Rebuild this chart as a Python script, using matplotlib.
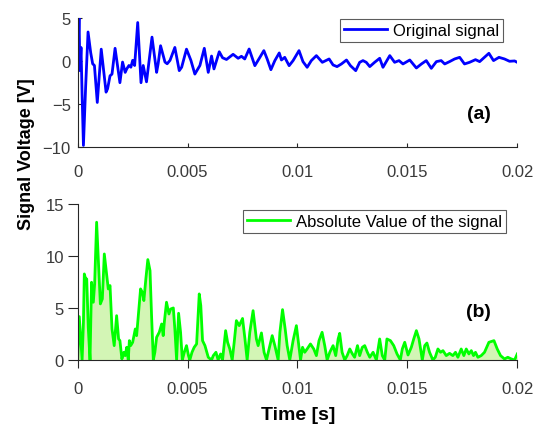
import numpy as np
import matplotlib
matplotlib.use("Agg")
from matplotlib import pyplot as plt

# time in ms, voltage in V
t_orig = [0.00, 0.06, 0.10, 0.15, 0.20, 0.26, 0.36, 0.47, 0.59, 0.68, 0.76, 0.89,
          1.07, 1.29, 1.36, 1.47, 1.56, 1.70, 1.92, 2.04, 2.16, 2.23, 2.33, 2.42,
          2.50, 2.59, 2.73, 2.88, 2.98, 3.13, 3.38, 3.59, 3.66, 3.77, 3.97, 4.07,
          4.20, 4.42, 4.62, 4.73, 4.95, 5.15, 5.33, 5.56, 5.76, 5.94, 6.09, 6.20,
          6.44, 6.59, 6.77, 7.07, 7.30, 7.45, 7.60, 7.80, 8.06, 8.29, 8.47, 8.62,
          8.79, 8.97, 9.17, 9.27, 9.42, 9.62, 9.80, 10.07, 10.25, 10.44, 10.63,
          10.86, 11.13, 11.44, 11.62, 11.80, 12.00, 12.23, 12.41, 12.65, 12.83,
          12.98, 13.13, 13.29, 13.51, 13.74, 13.89, 14.20, 14.42, 14.62, 14.80,
          15.11, 15.41, 15.64, 15.86, 16.09, 16.32, 16.54, 16.70, 16.92, 17.15,
          17.38, 17.60, 17.83, 18.10, 18.29, 18.71, 18.92, 19.17, 19.42, 19.65,
          19.88, 20.00]
v_orig = [-0.9, 5.3, -1.1, 1.6, -4.0, -9.8, -3.0, 3.4, 1.0, -0.3, -0.5, -4.8,
          1.4, -3.6, -3.2, -1.7, -1.5, 1.5, -2.5, -0.1, -1.3, -0.9, -0.5, -0.7,
          0.1, -0.5, 4.5, -2.5, -0.5, -2.4, 2.8, -1.3, -0.3, 1.8, -0.1, -0.3,
          0.1, 1.6, -1.1, -0.7, 1.4, 0.1, -1.5, -0.5, 1.5, -1.3, 0.6, -0.9,
          1.1, 0.4, 0.2, 0.8, 0.34, 0.57, 0.26, 1.42, -0.52, 0.45, 1.23, 0.26,
          -0.99, 0.07, 0.96, 0.14, 0.45, -0.52, 0.07, 1.23, -0.05, -0.71, 0.07,
          0.65, -0.13, 0.26, -0.44, -0.63, -0.32, 0.14, -0.52, -1.1, -0.13,
          0.07, -0.13, -0.63, -0.13, 0.34, -0.71, 0.65, -0.13, 0.07, -0.32,
          0.14, -0.79, -0.32, 0.07, -0.83, -0.05, 0.07, -0.32, -0.05, 0.26,
          0.45, -0.32, -0.13, 0.18, -0.05, 0.92, 0.07, 0.45, 0.26, -0.01,
          0.03, -0.13]

t_abs = [0.00, 0.03, 0.07, 0.15, 0.20, 0.26, 0.30, 0.38, 0.41, 0.48, 0.56, 0.63,
         0.71, 0.77, 0.86, 0.94, 1.03, 1.12, 1.21, 1.32, 1.39, 1.47, 1.56, 1.66,
         1.77, 1.86, 1.92, 2.01, 2.10, 2.16, 2.23, 2.30, 2.35, 2.41, 2.50, 2.56,
         2.62, 2.68, 2.77, 2.86, 2.94, 3.01, 3.10, 3.19, 3.29, 3.36, 3.44, 3.51,
         3.59, 3.71, 3.82, 3.89, 3.94, 4.04, 4.15, 4.23, 4.35, 4.42, 4.50, 4.59,
         4.68, 4.76, 4.85, 4.95, 5.04, 5.10, 5.20, 5.30, 5.41, 5.53, 5.60, 5.68,
         5.79, 5.94, 6.09, 6.17, 6.29, 6.39, 6.50, 6.59, 6.73, 6.82, 6.92, 7.03,
         7.12, 7.22, 7.35, 7.50, 7.61, 7.71, 7.83, 7.98, 8.13, 8.21, 8.36, 8.48,
         8.59, 8.71, 8.85, 8.97, 9.12, 9.20, 9.32, 9.44, 9.53, 9.65, 9.80, 9.95,
         10.06, 10.14, 10.23, 10.33, 10.44, 10.59, 10.74, 10.86, 10.98, 11.12,
         11.24, 11.35, 11.47, 11.62, 11.74, 11.85, 11.92, 12.03, 12.15, 12.26,
         12.38, 12.50, 12.60, 12.73, 12.83, 12.95, 13.06, 13.18, 13.29, 13.44,
         13.59, 13.74, 13.86, 13.97, 14.07, 14.23, 14.38, 14.53, 14.68, 14.77,
         14.88, 15.03, 15.18, 15.29, 15.41, 15.53, 15.68, 15.79, 15.89, 16.01,
         16.16, 16.27, 16.39, 16.51, 16.62, 16.77, 16.92, 17.07, 17.19, 17.30,
         17.45, 17.57, 17.68, 17.80, 17.91, 18.01, 18.10, 18.21, 18.36, 18.51,
         18.71, 18.94, 19.09, 19.24, 19.42, 19.57, 19.73, 19.88, 20.00]
v_abs = [0.0, 1.70, 4.17, 1.70, 0.0, 3.62, 8.27, 7.63, 7.79, 3.14, 0.0, 7.47,
         5.55, 7.31, 13.24, 9.55, 5.39, 5.87, 10.19, 8.11, 6.83, 7.15, 2.98, 1.38,
         4.26, 2.02, 1.86, 0.10, 0.74, 0.42, 1.22, 0.0, 1.86, 1.38, 1.70, 2.34,
         2.98, 2.34, 4.58, 6.83, 6.51, 5.71, 7.79, 9.65, 8.59, 4.26, 0.0, 0.74,
         2.18, 2.66, 3.46, 2.34, 3.62, 5.55, 4.42, 4.90, 5.00, 2.98, 0.0, 4.49,
         2.66, 0.0, 0.74, 1.38, 0.42, 0.0, 0.74, 1.22, 1.54, 6.35, 5.23, 1.86,
         1.38, 0.26, 0.0, 0.42, 0.74, 0.0, 0.58, 0.0, 2.82, 1.70, 1.06, 0.0,
         1.70, 3.78, 3.30, 3.99, 2.02, 0.0, 2.66, 4.74, 2.02, 1.38, 2.60, 0.74,
         0.0, 1.06, 2.34, 1.38, 0.0, 2.66, 4.84, 2.98, 1.38, 0.0, 1.86, 3.30,
         1.38, 0.0, 1.22, 0.74, 1.06, 1.54, 1.06, 0.42, 1.86, 2.66,
         1.38, 0.0, 0.74, 1.38, 0.42, 2.02, 2.56, 0.74, 0.0, 0.42,
         1.06, 0.58, 0.26, 1.38, 0.42, 1.22, 1.38, 0.74, 0.26, 0.74,
         0.0, 2.02, 0.42, 0.0, 2.02, 1.86, 1.38, 0.58, 0.0, 1.06,
         1.70, 0.48, 1.22, 2.02, 2.82, 2.02, 0.0, 1.38, 1.63, 0.74,
         0.0, 0.26, 1.06, 0.74, 0.90, 0.42, 0.64, 0.42, 0.74, 0.26,
         1.06, 0.42, 1.06, 0.58, 0.90, 0.42, 0.74, 0.26, 0.42, 0.74,
         1.70, 1.86, 1.06, 0.42, 0.10, 0.26, 0.10, 0.0, 0.58]

x_ticks = [0, 0.005, 0.01, 0.015, 0.02]
x_ticklabels = ["0", "0.005", "0.01", "0.015", "0.02"]

plt.rcParams["font.family"] = ["Liberation Sans", "DejaVu Sans"]
axis_color = "#262626"
tick_text = "#3a3a3a"

t1 = np.array(t_orig) * 1e-3
t2 = np.array(t_abs) * 1e-3

fig = plt.figure(figsize=(5.36, 4.27), dpi=100)
ax1 = fig.add_axes([0.145, 0.653, 0.820, 0.302])
ax2 = fig.add_axes([0.145, 0.1546, 0.820, 0.3655])

# (a) original signal
ax1.plot(t1, v_orig, color="#0000ff", lw=2.0, label="Original signal")
ax1.set_xlim(0, 0.02)
ax1.set_ylim(-10, 5)
ax1.set_yticks([-10, -5, 0, 5])
ax1.set_xticks(x_ticks)
ax1.set_xticklabels(x_ticklabels)
ax1.tick_params(direction="in", length=3, width=0.8, color=axis_color,
                labelcolor=tick_text, labelsize=12)
ax1.tick_params(axis="x", pad=12)
ax1.tick_params(axis="y", pad=5)
leg1 = ax1.legend(loc="upper right", bbox_to_anchor=(0.968, 0.995), fontsize=12,
                  fancybox=False, edgecolor="#333333", handlelength=2.6,
                  handletextpad=0.35, borderpad=0.25, borderaxespad=0)
leg1.get_frame().set_linewidth(0.8)
ax1.text(0.912, 0.26, "(a)", transform=ax1.transAxes, fontsize=14,
         fontweight="bold", ha="center", va="center")

# (b) absolute value
ax2.fill_between(t2, 0, v_abs, color="#d3f5b5", lw=0)
ax2.plot(t2, v_abs, color="#00ff00", lw=2.0, label="Absolute Value of the signal")
ax2.set_xlim(0, 0.02)
ax2.set_ylim(0, 15)
ax2.set_yticks([0, 5, 10, 15])
ax2.set_xticks(x_ticks)
ax2.set_xticklabels(x_ticklabels)
ax2.tick_params(direction="out", width=0.8, color=axis_color,
                labelcolor=tick_text, labelsize=12)
ax2.tick_params(axis="x", length=6, pad=9)
ax2.tick_params(axis="y", length=7, pad=3)
leg2 = ax2.legend(loc="upper right", bbox_to_anchor=(0.975, 0.962), fontsize=12,
                  fancybox=False, edgecolor="#333333", handlelength=2.6,
                  handletextpad=0.35, borderpad=0.25, borderaxespad=0)
leg2.get_frame().set_linewidth(0.8)
ax2.text(0.912, 0.31, "(b)", transform=ax2.transAxes, fontsize=14,
         fontweight="bold", ha="center", va="center")

for ax in (ax1, ax2):
    ax.spines["top"].set_visible(False)
    ax.spines["right"].set_visible(False)
    ax.spines["left"].set_color(axis_color)
    ax.spines["bottom"].set_color(axis_color)

fig.text(0.049, 0.640, "Signal Voltage [V]", rotation=90, fontsize=13,
         fontweight="bold", ha="center", va="center")
fig.text(0.556, 0.026, "Time [s]", fontsize=14, fontweight="bold",
         ha="center", va="center")

fig.savefig("out.png", dpi=100)
